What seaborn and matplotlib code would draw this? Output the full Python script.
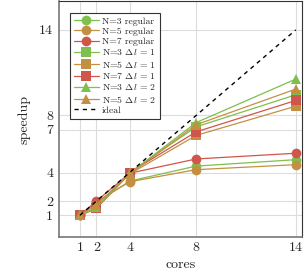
import matplotlib
matplotlib.use("Agg")
import matplotlib.pyplot as plt
import seaborn as sns
import pandas as pd

# --- data ---
cores = [1, 2, 4, 8, 14]
n3_regular = [1, 1.9, 3.4, 4.45, 4.9]
n5_regular = [1, 1.95, 3.35, 4.2, 4.55]
n7_regular = [1, 2.0, 3.95, 4.95, 5.35]
n3_dl1 = [1, 1.5, 4.0, 7.2, 9.45]
n5_dl1 = [1, 1.5, 3.9, 6.6, 8.65]
n7_dl1 = [1, 1.5, 4.0, 6.85, 9.05]
n3_dl2 = [1, 1.55, 3.95, 7.5, 10.55]
n5_dl2 = [1, 1.75, 3.9, 7.35, 9.85]
ideal = [1, 2, 4, 8, 14]

x_ticks = [1, 2, 4, 8, 14]
y_ticks = [1, 2, 4, 7, 8, 14]

green = "#7fbf4d"
brown = "#c39043"
red = "#d0564b"

series = [
    ("N=3 regular", n3_regular, green, "o"),
    ("N=5 regular", n5_regular, brown, "o"),
    ("N=7 regular", n7_regular, red, "o"),
    (r"N=3 $\Delta l$ = 1", n3_dl1, green, "s"),
    (r"N=5 $\Delta l$ = 1", n5_dl1, brown, "s"),
    (r"N=7 $\Delta l$ = 1", n7_dl1, red, "s"),
    (r"N=3 $\Delta l$ = 2", n3_dl2, green, "^"),
    (r"N=5 $\Delta l$ = 2", n5_dl2, brown, "^"),
]

sns.set_style("whitegrid")
plt.rcParams["font.family"] = ["cmr10", "DejaVu Serif"]
plt.rcParams["mathtext.fontset"] = "cm"
plt.rcParams["axes.formatter.use_mathtext"] = True

fig = plt.figure(figsize=(3.07, 2.73), dpi=100)
ax = fig.add_axes([0.191, 0.133, 0.794, 0.862])

for label, vals, color, marker in series:
    df = pd.DataFrame({"cores": cores, "speedup": vals})
    sns.lineplot(data=df, x="cores", y="speedup", ax=ax, color=color,
                 marker=marker, markersize=7, markeredgewidth=0,
                 linewidth=0.9, label=label)

df_ideal = pd.DataFrame({"cores": cores, "speedup": ideal})
sns.lineplot(data=df_ideal, x="cores", y="speedup", ax=ax, color="black",
             linestyle=(0, (3, 3)), linewidth=1.0, label="ideal")

ax.set_xlim(-0.28, 14.4)
ax.set_ylim(-0.5, 16.0)
ax.set_xticks(x_ticks)
ax.set_yticks(y_ticks)
ax.set_xticklabels([str(t) for t in x_ticks])
ax.set_yticklabels([str(t) for t in y_ticks])
ax.tick_params(length=0, labelsize=10, pad=4)
ax.grid(True, color="#dcdcdc", linewidth=0.8)
ax.set_xlabel("cores", fontsize=10, labelpad=3)
ax.set_ylabel("speedup", fontsize=10, labelpad=6)

for side in ["top", "right"]:
    ax.spines[side].set_color("#333333")
    ax.spines[side].set_linewidth(0.8)
for side in ["left", "bottom"]:
    ax.spines[side].set_color("#777777")
    ax.spines[side].set_linewidth(1.2)

leg = ax.legend(loc="upper left", bbox_to_anchor=(0.046, 0.951),
                fontsize=7, labelspacing=0.14, handlelength=2.6,
                handletextpad=0.3, borderpad=0.4, borderaxespad=0,
                fancybox=False, framealpha=1)
leg.get_frame().set_edgecolor("#333333")
leg.get_frame().set_linewidth(0.8)

fig.savefig("out.png", dpi=100)
